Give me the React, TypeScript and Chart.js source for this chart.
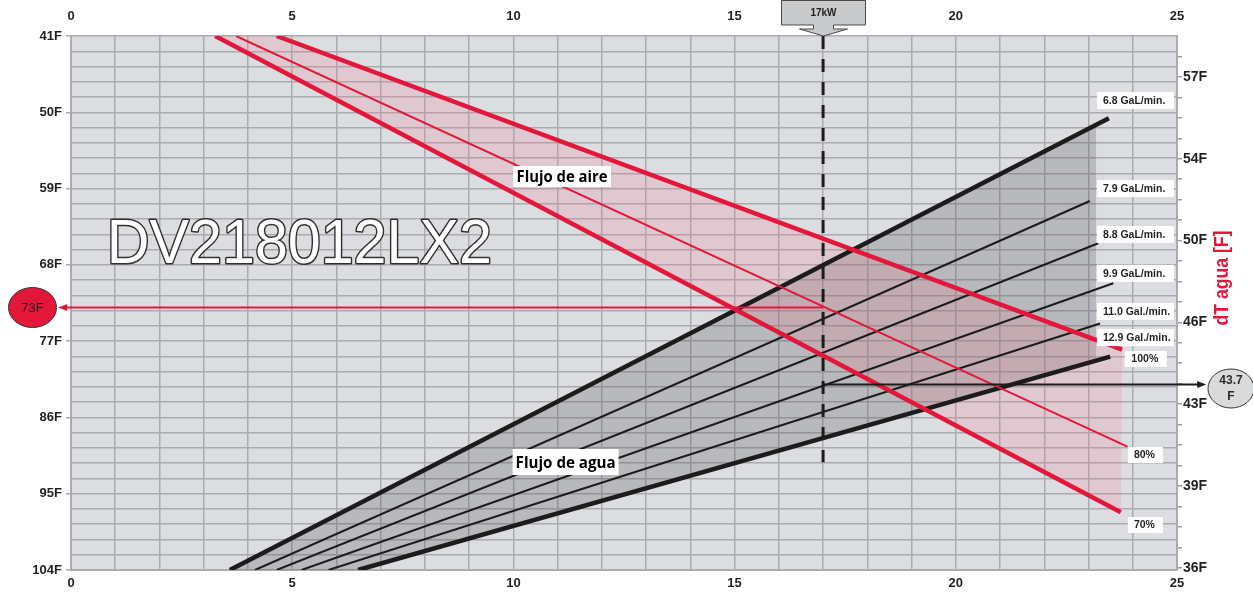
import React, { useEffect, useRef } from 'react';
import { Chart, registerables } from 'chart.js';

Chart.register(...registerables);

// ---------------- data ----------------
const xTickValues = [0, 5, 10, 15, 20, 25];
const leftAxisLabels = ['41F', '50F', '59F', '68F', '77F', '86F', '95F', '104F'];
const rightAxisLabels = ['36F', '39F', '43F', '46F', '50F', '54F', '57F'];

const airLabels = ['70%', '80%', '100%'];
const airStartX = [3.26, 3.73, 4.65];
const airStartY = [41, 41, 41];
const airEndX = [23.73, 23.88, 23.76];
const airEndY = [97.2, 89.45, 78.0];

const waterLabels = ['6.8 GaL/min.', '7.9 GaL/min.', '8.8 GaL/min.', '9.9 GaL/min.', '11.0 Gal./min.', '12.9 Gal./min.'];
const waterStartX = [3.59, 4.16, 4.65, 5.21, 5.82, 6.49];
const waterStartY = [35.5, 35.5, 35.5, 35.5, 35.5, 35.5];
const waterEndX = [23.46, 23.03, 23.22, 23.56, 23.26, 23.49];
const waterEndY = [55.38, 51.74, 49.88, 48.12, 46.35, 44.89];

const airBandX = [3.26, 4.65, 23.76, 23.73];
const airBandY = [41, 41, 78.0, 97.2];
const waterBandX = [3.59, 23.17, 23.17, 6.49];
const waterBandY = [35.5, 55.1, 44.7, 35.5];

const capacityKW = 17;
const capacityLineY = [41, 91.3];
const airTarget = 73;
const airTargetLabel = '73F';
const waterResult = 43.7;
const waterResultLabel = ['43.7', 'F'];

const modelName = 'DV218012LX2';
const capacityLabel = '17kW';
const airFlowLabel = 'Flujo de aire';
const waterFlowLabel = 'Flujo de agua';
const rightAxisTitle = 'dT agua [F]';

// ---------------- styles ----------------
const RED = '#e3173a';
const BLACK = '#1c1c1c';
const GRID = '#aaabae';
const PLOT_BG = '#dcdde0';
const TXT = '#231f20';
const AX = '"Liberation Sans", Arial, sans-serif';
const HUM = '"Open Sans", "Liberation Sans", sans-serif';

const leftTicks = Array.from({ length: 36 }, (_, k) => +(41 + 1.8 * k).toFixed(2));
const rightTicks = Array.from({ length: 26 }, (_, k) => +(35.6 + 0.9 * k).toFixed(2));
const xGridTicks = Array.from({ length: 26 }, (_, k) => k);

function seg(x0: number, y0: number, x1: number, y1: number) {
  return [{ x: x0, y: y0 }, { x: x1, y: y1 }];
}
function poly(xs: number[], ys: number[]) {
  return xs.map((x, i) => ({ x, y: ys[i] }));
}

function fitText(ctx: CanvasRenderingContext2D, text: string, x: number, y: number, width: number, align: 'left' | 'center') {
  const w = ctx.measureText(text).width;
  const sx = width / w;
  ctx.save();
  ctx.translate(x, y);
  ctx.scale(sx, 1);
  ctx.textAlign = align;
  ctx.fillText(text, 0, 0);
  ctx.restore();
}

const decorPlugin = {
  id: 'decor',
  beforeDraw(chart: any) {
    const { ctx, chartArea: a } = chart;
    ctx.save();
    ctx.fillStyle = PLOT_BG;
    ctx.fillRect(a.left, a.top, a.right - a.left, a.bottom - a.top);
    ctx.restore();
  },
  afterDraw(chart: any) {
    const ctx: CanvasRenderingContext2D = chart.ctx;
    const xs = chart.scales.x, yl = chart.scales.y, yr = chart.scales.y2;
    const X = (v: number) => xs.getPixelForValue(v);
    const YL = (v: number) => yl.getPixelForValue(v);
    const YR = (v: number) => yr.getPixelForValue(v);
    const top = chart.chartArea.top;

    ctx.save();

    // Model name, outlined
    ctx.font = `63px ${AX}`;
    ctx.textBaseline = 'alphabetic';
    {
      const w = ctx.measureText(modelName).width;
      ctx.save();
      ctx.translate(X(0.81), YL(67.8));
      ctx.scale(385 / w, 1);
      ctx.lineJoin = 'round';
      ctx.strokeStyle = '#2e2e2e';
      ctx.lineWidth = 3;
      ctx.strokeText(modelName, 0, 0);
      ctx.fillStyle = '#ffffff';
      ctx.fillText(modelName, 0, 0);
      ctx.restore();
    }

    // Flujo labels
    const flowBox = (cx: number, cy: number, w: number, h: number, tw: number, text: string) => {
      ctx.fillStyle = '#ffffff';
      ctx.fillRect(cx - w / 2, cy - h / 2, w, h);
      ctx.fillStyle = '#000000';
      ctx.font = `bold 16px ${HUM}`;
      ctx.textBaseline = 'middle';
      fitText(ctx, text, cx, cy + 1, tw, 'center');
    };
    flowBox(X(11.10), YL(57.58), 98, 21, 91, airFlowLabel);
    flowBox(X(11.18), YL(91.26), 106, 26, 100, waterFlowLabel);

    // Water flow label boxes
    const waterBoxTop = [56.54, 52.66, 50.64, 48.93, 47.25, 46.10];
    ctx.font = `bold 10.5px ${AX}`;
    ctx.textBaseline = 'middle';
    waterLabels.forEach((t, i) => {
      const bx = X(23.19), by = YR(waterBoxTop[i]);
      ctx.fillStyle = '#ffffff';
      ctx.fillRect(bx, by, 77, 17);
      ctx.fillStyle = TXT;
      ctx.textAlign = 'left';
      ctx.fillText(t, bx + 6, by + 9);
    });

    // Percent boxes
    const pctLeft = [23.89, 23.89, 23.82];
    const pctTop = [97.75, 89.49, 78.16];
    const pctW = [35, 35, 42];
    airLabels.forEach((t, i) => {
      const bx = X(pctLeft[i]), by = YL(pctTop[i]);
      ctx.fillStyle = '#ffffff';
      ctx.fillRect(bx, by, pctW[i], 16);
      ctx.fillStyle = TXT;
      ctx.textAlign = 'center';
      ctx.fillText(t, bx + pctW[i] / 2 - 1, by + 8.5);
    });

    // 73F arrow (red, to the left)
    {
      const y = Math.round(YL(airTarget)) + 0.5;
      const x0 = X(capacityKW), tip = X(-0.29);
      ctx.strokeStyle = RED;
      ctx.lineWidth = 2;
      ctx.beginPath();
      ctx.moveTo(x0, y);
      ctx.lineTo(tip + 6, y);
      ctx.stroke();
      ctx.fillStyle = RED;
      ctx.beginPath();
      ctx.moveTo(tip, y);
      ctx.lineTo(tip + 9, y - 3.5);
      ctx.lineTo(tip + 9, y + 3.5);
      ctx.closePath();
      ctx.fill();
      const cx = X(-0.87);
      ctx.beginPath();
      ctx.ellipse(cx, y, 24, 20, 0, 0, Math.PI * 2);
      ctx.fillStyle = '#e3173a';
      ctx.fill();
      ctx.strokeStyle = '#333333';
      ctx.lineWidth = 1;
      ctx.stroke();
      ctx.fillStyle = '#2b1a1c';
      ctx.font = `13px ${AX}`;
      ctx.textAlign = 'center';
      ctx.textBaseline = 'middle';
      ctx.fillText(airTargetLabel, cx, y + 1);
    }

    // 43.7F arrow (black, to the right)
    {
      const y = Math.round(YR(waterResult)) + 0.5;
      const x0 = X(capacityKW), tip = X(25.66);
      ctx.strokeStyle = BLACK;
      ctx.lineWidth = 2;
      ctx.beginPath();
      ctx.moveTo(x0, y);
      ctx.lineTo(tip - 6, y);
      ctx.stroke();
      ctx.fillStyle = BLACK;
      ctx.beginPath();
      ctx.moveTo(tip, y);
      ctx.lineTo(tip - 9, y - 3.5);
      ctx.lineTo(tip - 9, y + 3.5);
      ctx.closePath();
      ctx.fill();
      const cx = X(26.22), cy = y + 4;
      ctx.beginPath();
      ctx.ellipse(cx, cy, 23, 19.5, 0, 0, Math.PI * 2);
      ctx.fillStyle = '#d9dadc';
      ctx.fill();
      ctx.strokeStyle = '#333333';
      ctx.lineWidth = 1;
      ctx.stroke();
      ctx.fillStyle = '#2b2b2b';
      ctx.font = `bold 12px ${AX}`;
      ctx.textAlign = 'center';
      ctx.textBaseline = 'middle';
      ctx.fillText(waterResultLabel[0], cx, cy - 8);
      ctx.fillText(waterResultLabel[1], cx, cy + 8);
    }

    // 17kW pointer box
    {
      const cx = Math.round(X(capacityKW)) + 0.5;
      ctx.beginPath();
      ctx.moveTo(cx - 42, 0.5);
      ctx.lineTo(cx + 42, 0.5);
      ctx.lineTo(cx + 42, 25);
      ctx.lineTo(cx + 10, 25);
      ctx.lineTo(cx + 10, 29);
      ctx.lineTo(cx + 24, 29);
      ctx.lineTo(cx, top);
      ctx.lineTo(cx - 24, 29);
      ctx.lineTo(cx - 10, 29);
      ctx.lineTo(cx - 10, 25);
      ctx.lineTo(cx - 42, 25);
      ctx.closePath();
      ctx.fillStyle = '#c9cacc';
      ctx.fill();
      ctx.strokeStyle = '#4a4a4a';
      ctx.lineWidth = 1;
      ctx.stroke();
      ctx.fillStyle = TXT;
      ctx.font = `bold 10px ${AX}`;
      ctx.textAlign = 'center';
      ctx.textBaseline = 'middle';
      ctx.fillText(capacityLabel, cx, 13);
    }

    // Right axis title (rotated)
    {
      ctx.save();
      ctx.translate(X(26.02), YR(48.35));
      ctx.rotate(-Math.PI / 2);
      ctx.fillStyle = RED;
      ctx.font = `bold 20px ${AX}`;
      ctx.textBaseline = 'middle';
      fitText(ctx, rightAxisTitle, 0, 0, 95, 'center');
      ctx.restore();
    }

    ctx.restore();
  },
};

export default function App() {
  const ref = useRef<HTMLCanvasElement>(null);

  useEffect(() => {
    document.body.style.margin = '0';
    const canvas = ref.current!;

    const datasets: any[] = [];
    datasets.push({
      label: capacityLabel,
      data: seg(capacityKW, capacityLineY[0], capacityKW, capacityLineY[1]),
      yAxisID: 'y',
      borderColor: BLACK,
      borderWidth: 3,
      borderDash: [13, 10],
      pointRadius: 0,
      fill: false,
      order: 1,
    });
    airLabels.forEach((l, i) => {
      datasets.push({
        label: l,
        data: seg(airStartX[i], airStartY[i], airEndX[i], airEndY[i]),
        yAxisID: 'y',
        borderColor: RED,
        borderWidth: i === 1 ? 2 : 4.5,
        pointRadius: 0,
        fill: false,
        order: 2,
      });
    });
    waterLabels.forEach((l, i) => {
      datasets.push({
        label: l,
        data: seg(waterStartX[i], waterStartY[i], waterEndX[i], waterEndY[i]),
        yAxisID: 'y2',
        borderColor: BLACK,
        borderWidth: i === 0 || i === waterLabels.length - 1 ? 4.5 : 2,
        pointRadius: 0,
        fill: false,
        order: 3,
      });
    });
    datasets.push({
      label: 'air band',
      data: poly(airBandX, airBandY),
      yAxisID: 'y',
      borderColor: 'transparent',
      borderWidth: 0,
      backgroundColor: 'rgba(236,120,140,0.2)',
      pointRadius: 0,
      fill: 'shape',
      order: 10,
    });
    datasets.push({
      label: 'water band',
      data: poly(waterBandX, waterBandY),
      yAxisID: 'y2',
      borderColor: 'transparent',
      borderWidth: 0,
      backgroundColor: 'rgba(80,80,86,0.26)',
      pointRadius: 0,
      fill: 'shape',
      order: 20,
    });

    const tickFont = { family: AX, size: 13, weight: 'bold' as const };

    const chart = new Chart(canvas, {
      type: 'line',
      data: { datasets },
      plugins: [decorPlugin],
      options: {
        animation: false,
        responsive: false,
        events: [],
        layout: { padding: 0 },
        elements: { line: { tension: 0 } },
        plugins: { legend: { display: false }, tooltip: { enabled: false } },
        scales: {
          x: {
            type: 'linear',
            position: 'bottom',
            min: 0,
            max: 25,
            afterBuildTicks: (s: any) => { s.ticks = xGridTicks.map((v) => ({ value: v })); },
            afterFit: (s: any) => { s.height = 23; },
            ticks: {
              autoSkip: false,
              maxRotation: 0,
              padding: 6,
              font: tickFont,
              color: TXT,
              callback: (v: any) => (xTickValues.includes(Number(v)) ? String(v) : ''),
            },
            grid: { color: GRID, lineWidth: 1.5, drawTicks: false },
            border: { color: GRID, width: 2 },
          },
          x2: {
            type: 'linear',
            position: 'top',
            min: 0,
            max: 25,
            afterBuildTicks: (s: any) => { s.ticks = xTickValues.map((v) => ({ value: v })); },
            afterFit: (s: any) => { s.height = 36; },
            ticks: { autoSkip: false, maxRotation: 0, padding: 12, font: tickFont, color: TXT },
            grid: { drawOnChartArea: false, drawTicks: false },
            border: { display: false },
          },
          y: {
            type: 'linear',
            position: 'left',
            min: 41,
            max: 104,
            reverse: true,
            afterBuildTicks: (s: any) => { s.ticks = leftTicks.map((v) => ({ value: v })); },
            afterFit: (s: any) => { s.width = 71; },
            ticks: {
              autoSkip: false,
              padding: 4,
              font: tickFont,
              color: TXT,
              callback: (_v: any, i: number) => (i % 5 === 0 ? leftAxisLabels[i / 5] : ''),
            },
            grid: {
              color: GRID,
              lineWidth: 1.5,
              tickLength: 5,
              tickColor: (c: any) => (c.index % 5 === 0 ? GRID : 'rgba(0,0,0,0)'),
            },
            border: { color: GRID, width: 2 },
          },
          y2: {
            type: 'linear',
            position: 'right',
            min: 35.5,
            max: 59,
            afterBuildTicks: (s: any) => { s.ticks = rightTicks.map((v) => ({ value: v })); },
            afterFit: (s: any) => { s.width = 76; },
            ticks: {
              autoSkip: false,
              padding: 1,
              font: { family: AX, size: 14, weight: 'bold' as const },
              color: TXT,
              callback: (_v: any, i: number) => (i % 4 === 0 ? rightAxisLabels[i / 4] : ''),
            },
            grid: { drawOnChartArea: false, tickLength: 5, tickColor: '#9c9da0', lineWidth: 1.5 },
            border: { color: GRID, width: 2 },
          },
        },
      } as any,
    });

    return () => chart.destroy();
  }, []);

  return (
    <canvas
      ref={ref}
      width={1253}
      height={593}
      style={{ display: 'block', width: 1253, height: 593 }}
    />
  );
}
